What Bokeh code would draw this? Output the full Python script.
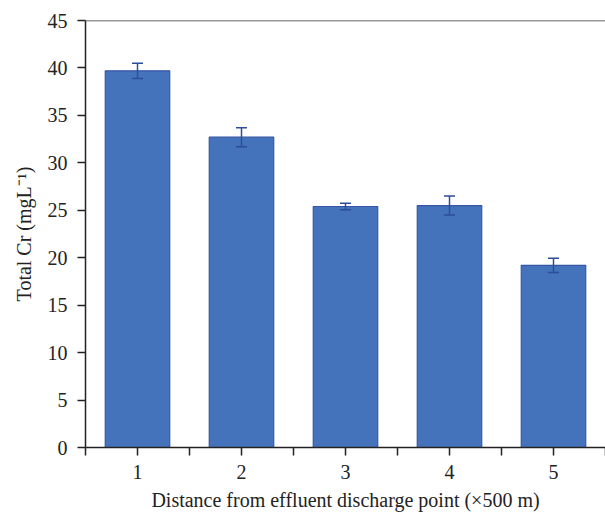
from bokeh.plotting import figure
from bokeh.models import ColumnDataSource, Whisker, TeeHead, FixedTicker, Span, Range1d
from bokeh.embed import file_html
from bokeh.resources import INLINE

distance = [1, 2, 3, 4, 5]
total_cr = [39.7, 32.7, 25.4, 25.5, 19.2]
err = [0.8, 1.0, 0.35, 1.0, 0.75]
x_labels = ["1", "2", "3", "4", "5"]

upper = [v + e for v, e in zip(total_cr, err)]
lower = [v - e for v, e in zip(total_cr, err)]
src = ColumnDataSource(dict(x=distance, top=total_cr, upper=upper, lower=lower))

FONT = "Liberation Serif"

p = figure(width=605, height=514, output_backend="svg", toolbar_location=None,
           x_range=Range1d(0.5, 5.5), y_range=Range1d(0, 45),
           min_border_left=85, min_border_right=0, min_border_top=20, min_border_bottom=67)
p.outline_line_color = None
p.xgrid.grid_line_color = None
p.ygrid.grid_line_color = None

p.vbar(x="x", top="top", width=0.62, bottom=0, source=src,
       fill_color="#4473BB", line_color="#3556A6", line_width=1.2)

wh = Whisker(base="x", upper="upper", lower="lower", source=src, level="overlay",
             line_color="#2E4C9C", line_width=1.5,
             upper_head=TeeHead(size=11, line_color="#2E4C9C", line_width=1.5),
             lower_head=TeeHead(size=11, line_color="#2E4C9C", line_width=1.5))
p.add_layout(wh)

p.add_layout(Span(location=45, dimension="width", line_color="#333333", line_width=1.5))

p.xaxis.ticker = FixedTicker(ticks=distance, minor_ticks=[0.5, 1.5, 2.5, 3.5, 4.5, 5.5])
p.xaxis.major_label_overrides = {d: l for d, l in zip(distance, x_labels)}
p.yaxis.ticker = FixedTicker(ticks=list(range(0, 50, 5)))

for ax in (p.xaxis[0], p.yaxis[0]):
    ax.axis_line_color = "#222222"
    ax.axis_line_width = 1.5
    ax.major_tick_line_color = "#222222"
    ax.major_tick_line_width = 1.5
    ax.major_tick_in = 0
    ax.major_tick_out = 8
    ax.major_label_text_font = FONT
    ax.major_label_text_font_size = "20px"
    ax.major_label_text_color = "#222222"
    ax.axis_label_text_font = FONT
    ax.axis_label_text_font_size = "20px"
    ax.axis_label_text_font_style = "normal"
    ax.axis_label_text_color = "#222222"

p.xaxis.minor_tick_line_color = "#222222"
p.xaxis.minor_tick_line_width = 1.5
p.xaxis.minor_tick_in = 0
p.xaxis.minor_tick_out = 8
p.yaxis.minor_tick_line_color = None

p.xaxis.major_label_standoff = 9
p.yaxis.major_label_standoff = 10
p.xaxis.axis_label = "Distance from effluent discharge point (\u00d7500 m)"
p.yaxis.axis_label = "Total Cr (mgL\u207b\u00b9)"
p.xaxis.axis_label_standoff = 7
p.yaxis.axis_label_standoff = 10

open("out.html", "w").write(file_html(p, INLINE))
